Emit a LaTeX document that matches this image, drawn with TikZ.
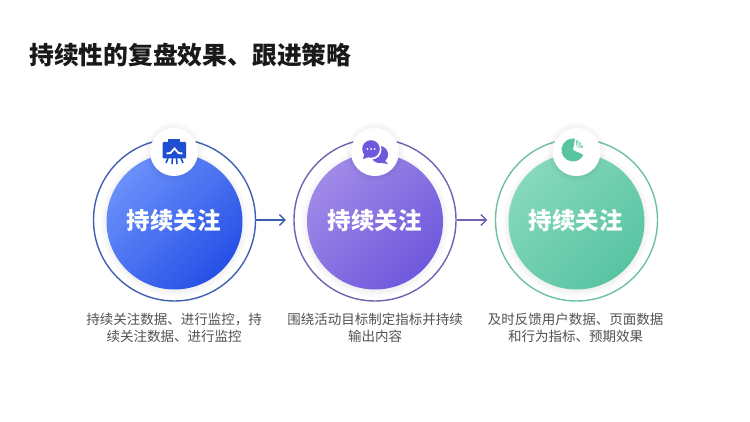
\documentclass[tikz,border=0pt]{standalone}
\usepackage{fontspec}
\setmainfont{Noto Sans CJK SC}
\usetikzlibrary{arrows.meta}
\definecolor{blueA}{HTML}{6A90FA}
\definecolor{blueB}{HTML}{2650E6}
\definecolor{blueRing}{HTML}{3F5FB0}
\definecolor{blueIcon}{HTML}{1F4FD0}
\definecolor{purpA}{HTML}{A08AE8}
\definecolor{purpB}{HTML}{6F58DC}
\definecolor{purpRing}{HTML}{6F63B0}
\definecolor{greenA}{HTML}{86D8BC}
\definecolor{greenB}{HTML}{58C4A2}
\definecolor{greenRing}{HTML}{6FBFA5}
\tikzset{
  x=1pt,y=-1pt,
  ringnode/.style={circle,draw,line width=1.4pt,minimum size=162pt,inner sep=0pt,fill=white},
  discnode/.style={circle,minimum size=136pt,inner sep=0pt,text=white,font=\bfseries\fontsize{23.5}{26}\selectfont},
  badgenode/.style={circle,fill=white,minimum size=48pt,inner sep=0pt},
  descnode/.style={align=center,text=black!68,font=\fontsize{13.5}{17}\selectfont,inner sep=0pt},
  titlenode/.style={anchor=west,inner sep=0pt,text=black!90,font=\bfseries\fontsize{24.8}{28}\selectfont},
  linkarrow/.style={line width=1.3pt,-{Straight Barb[length=5.5pt,width=11pt,line width=1.3pt]},shorten >=7.5pt},
}
\newcommand{\softcircle}[4]{% x,y,base radius,colour
  \foreach \r in {0,1,...,6}{\fill[#4,opacity=0.009] (#1,#2) circle[radius=#3+\r*1pt];}
}
\begin{document}
\begin{tikzpicture}
\useasboundingbox (0,0) rectangle (750,422);
\fill[white] (0,0) rectangle (750,422);
\node[titlenode] (title) at (29,55) {持续性的复盘效果、跟进策略};

% rings
\node[ringnode,draw=blueRing] (ringA) at (174.5,220) {};
\node[ringnode,draw=purpRing] (ringB) at (375,220) {};
\node[ringnode,draw=greenRing] (ringC) at (576.5,220) {};

% disc shadows
\softcircle{174.5}{223}{68}{black}
\softcircle{375}{223}{68}{black}
\softcircle{576.5}{223}{68}{black}

% discs
\node[discnode,shading=axis,left color=blueA,right color=blueB,shading angle=45] (discA) at (174.5,221.5) {};
\node[discnode,shading=axis,left color=purpA,right color=purpB,shading angle=45] (discB) at (375,221.5) {};
\node[discnode,shading=axis,left color=greenA,right color=greenB,shading angle=45] (discC) at (576.5,221.5) {};
\node[discnode] (labelA) at (173.5,220.5) {持续关注};
\node[discnode] (labelB) at (374.5,220.5) {持续关注};
\node[discnode] (labelC) at (575.5,220.5) {持续关注};

% badges
\softcircle{174}{152}{24}{black}
\softcircle{375}{152}{24}{black}
\softcircle{576.5}{152}{24}{black}
\node[badgenode] (badgeA) at (174,152) {};
\node[badgenode] (badgeB) at (375,152) {};
\node[badgenode] (badgeC) at (576.5,152) {};

% icon A
\fill[blueIcon,rounded corners=1pt] (162.5,142) rectangle (186,158.5);
\fill[blueIcon] (168,139) rectangle (180,142.5);
\draw[white,line width=1.8pt] (166.5,153.5) -- (170.5,153) -- (174.5,148.5) -- (178.5,153) -- (182.5,153.5);
\draw[blueIcon,line width=1.6pt] (168,158) -- (166,163);
\draw[blueIcon,line width=1.6pt] (172.5,158) -- (172,164);
\draw[blueIcon,line width=1.6pt] (176.5,158) -- (177,164);
\draw[blueIcon,line width=1.6pt] (181,158) -- (183,163);

% icon B
\fill[purpB] (379.5,154.5) circle[radius=8.6];
\fill[purpB] (384,160) -- (388,164) -- (381,163) -- cycle;
\fill[white] (371.5,149.5) circle[radius=10];
\fill[purpB] (371,149) circle[radius=8.8];
\fill[purpB] (364.5,153) -- (363,159) -- (369,157) -- cycle;
\foreach \dx in {-3.6,0,3.6}{\fill[white] (371+\dx,149) circle[radius=1];}

% icon C
\begin{scope}[shift={(573,150)},x=1pt,y=1pt]
  \fill[greenB] (0,0) -- (80:11.5) arc[start angle=80,end angle=335,radius=11.5] -- cycle;
  \fill[greenB!70] (3,2.5) -- (72:10.5) arc[start angle=72,end angle=12,radius=10.5] -- cycle;
  \draw[white,line width=0.7pt] (3,2.5) -- (52:11);
  \draw[white,line width=0.7pt] (3,2.5) -- (32:12);
\end{scope}

% connectors
\draw[linkarrow,draw=blueRing] (ringA) -- (ringB);
\draw[linkarrow,draw=purpRing] (ringB) -- (ringC);

% descriptions
\node[descnode] (descA) at (174,327.5) {持续关注数据、进行监控，持\\续关注数据、进行监控};
\node[descnode] (descB) at (375,327.5) {围绕活动目标制定指标并持续\\输出内容};
\node[descnode] (descC) at (575.5,327.5) {及时反馈用户数据、页面数据\\和行为指标、预期效果};
\end{tikzpicture}
\end{document}
